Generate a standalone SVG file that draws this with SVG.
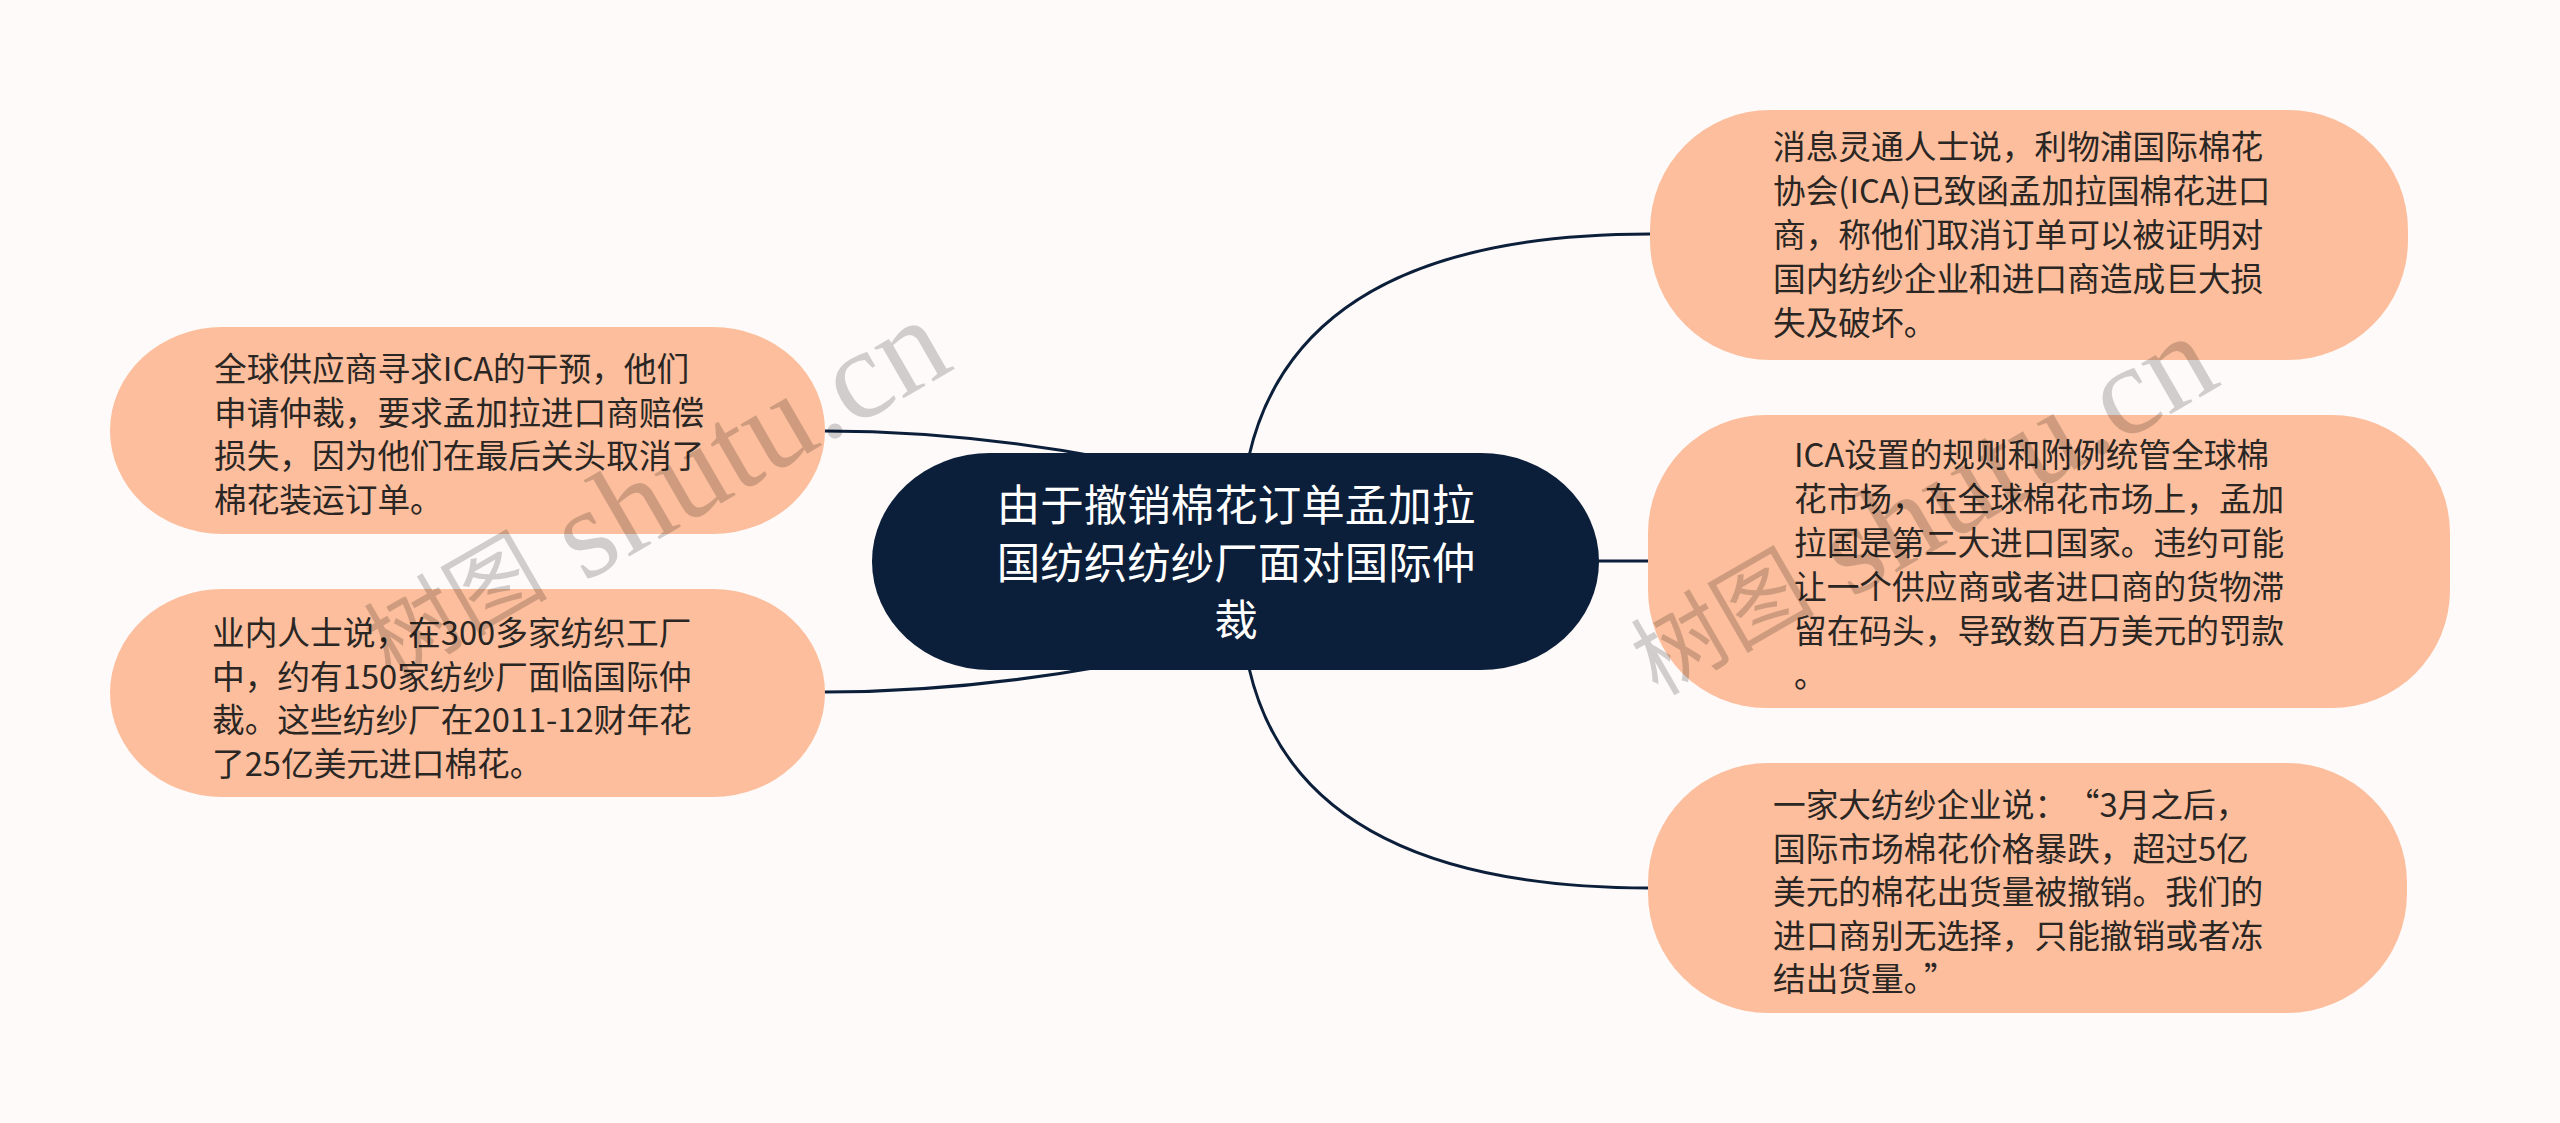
<svg xmlns="http://www.w3.org/2000/svg" width="2560" height="1123" viewBox="0 0 2560 1123">
<style>
.bg{fill:#fefaf9}
.leaf{fill:#fcbe9c}
.root{fill:#0c1f3a}
.conn{fill:none;stroke:#0c1f3a;stroke-width:3;stroke-linecap:round}
.t{font-family:"Noto Sans CJK SC","Liberation Sans",sans-serif;font-size:32.7px;fill:#2a2624}
.rt{font-family:"Noto Sans CJK SC","Liberation Sans",sans-serif;font-size:43.5px;fill:#ffffff;text-anchor:middle}
.wm{font-family:"Liberation Serif","Noto Sans CJK SC",serif;fill:#000000;fill-opacity:0.18}
</style>
<rect class="bg" x="0" y="0" width="2560" height="1123"/>
<g id="connectors">
<path class="conn" d="M1249,456 Q1300,234 1650,234"/>
<path class="conn" d="M1249,668 Q1300,888 1650,888"/>
<path class="conn" d="M1590,561 L1650,561"/>
<path class="conn" d="M825,431 Q960,431 1105,458"/>
<path class="conn" d="M825,692 Q960,692 1105,666"/>
</g>
<g id="root">
<rect class="root" x="872" y="453" width="727" height="217" rx="118"/>
<text class="rt" x="1236"><tspan x="1236" y="521">由于撤销棉花订单孟加拉</tspan><tspan x="1236" y="579">国纺织纺纱厂面对国际仲</tspan><tspan x="1236" y="636">裁</tspan></text>
</g>
<g id="node-r1">
<rect class="leaf" x="1650" y="110" width="758" height="250" rx="120"/>
<text class="t"><tspan x="1773" y="159">消息灵通人士说，利物浦国际棉花</tspan><tspan x="1773" y="203">协会(ICA)已致函孟加拉国棉花进口</tspan><tspan x="1773" y="247">商，称他们取消订单可以被证明对</tspan><tspan x="1773" y="291">国内纺纱企业和进口商造成巨大损</tspan><tspan x="1773" y="335">失及破坏。</tspan></text>
</g>
<g id="node-r2">
<rect class="leaf" x="1648" y="415" width="802" height="293" rx="118"/>
<text class="t"><tspan x="1794" y="467">ICA设置的规则和附例统管全球棉</tspan><tspan x="1794" y="511">花市场，在全球棉花市场上，孟加</tspan><tspan x="1794" y="555">拉国是第二大进口国家。违约可能</tspan><tspan x="1794" y="599">让一个供应商或者进口商的货物滞</tspan><tspan x="1794" y="643">留在码头，导致数百万美元的罚款</tspan><tspan x="1794" y="687">。</tspan></text>
</g>
<g id="node-r3">
<rect class="leaf" x="1648" y="763" width="759" height="250" rx="120"/>
<text class="t"><tspan x="1773" y="817">一家大纺纱企业说：<tspan dx="16">“</tspan>3月之后，</tspan><tspan x="1773" y="861">国际市场棉花价格暴跌，超过5亿</tspan><tspan x="1773" y="904">美元的棉花出货量被撤销。我们的</tspan><tspan x="1773" y="948">进口商别无选择，只能撤销或者冻</tspan><tspan x="1773" y="991">结出货量。<tspan dx="4">”</tspan></tspan></text>
</g>
<g id="node-l1">
<rect class="leaf" x="110" y="327" width="715" height="207" rx="112"/>
<text class="t"><tspan x="214" y="381">全球供应商寻求ICA的干预，他们</tspan><tspan x="214" y="425">申请仲裁，要求孟加拉进口商赔偿</tspan><tspan x="214" y="468">损失，因为他们在最后关头取消了</tspan><tspan x="214" y="512">棉花装运订单。</tspan></text>
</g>
<g id="node-l2">
<rect class="leaf" x="110" y="589" width="715" height="208" rx="112"/>
<text class="t"><tspan x="212" y="645">业内人士说，在300多家纺织工厂</tspan><tspan x="212" y="689">中，约有150家纺纱厂面临国际仲</tspan><tspan x="212" y="732">裁。这些纺纱厂在2011-12财年花</tspan><tspan x="212" y="776">了25亿美元进口棉花。</tspan></text>
</g>
<g id="watermarks">
<text class="wm" transform="translate(655,492) rotate(-30)" text-anchor="middle" dominant-baseline="central"><tspan font-size="92">树图</tspan><tspan font-size="128"> shutu.cn</tspan></text>
<text class="wm" transform="translate(1922,508) rotate(-30)" text-anchor="middle" dominant-baseline="central"><tspan font-size="92">树图</tspan><tspan font-size="128"> shutu.cn</tspan></text>
</g>
</svg>
